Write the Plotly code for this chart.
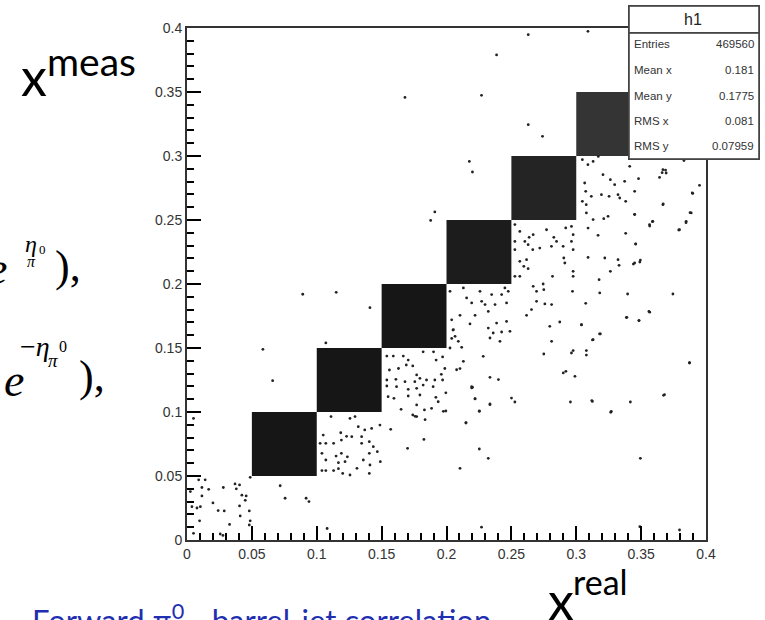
import plotly.graph_objects as go

# ---------------- data ----------------
# dense diagonal blocks (x_real range, x_meas range)
block_x0 = [0.05, 0.10, 0.15, 0.20, 0.25, 0.30]
block_x1 = [0.10, 0.15, 0.20, 0.25, 0.30, 0.35]
block_y0 = [0.05, 0.10, 0.15, 0.20, 0.25, 0.30]
block_y1 = [0.10, 0.15, 0.20, 0.25, 0.30, 0.35]
block_shade = ["#161616", "#161616", "#161616", "#1c1c1c", "#242424", "#343434"]

# sparse entries outside the blocks (x_real, x_meas)
sparse_x = [
    0.005, 0.009, 0.014, 0.0115, 0.0167, 0.0026, 0.0115, 0.028, 0.037, 0.0405, 0.038, 0.0423,
    0.0456, 0.0449, 0.020, 0.0103, 0.0077, 0.0038, 0.024, 0.0287, 0.0405, 0.048, 0.041, 0.0097,
    0.0328, 0.0487, 0.048, 0.005, 0.0256, 0.0277, 0.108, 0.0718, 0.0756, 0.0918, 0.094, 0.0487,
    0.0892, 0.115, 0.141, 0.0585, 0.066, 0.107, 0.263, 0.309, 0.2386, 0.168, 0.227, 0.263,
    0.274, 0.2176, 0.22, 0.191, 0.1878,
    0.105, 0.1026, 0.107, 0.104, 0.107, 0.104, 0.107, 0.113, 0.111, 0.113, 0.1185, 0.123,
    0.119, 0.127, 0.1256, 0.1295, 0.132, 0.1346, 0.137, 0.1423, 0.1487, 0.1405, 0.1436, 0.1467,
    0.1346, 0.1405, 0.119, 0.1149, 0.1236, 0.1167, 0.1218, 0.1359, 0.141, 0.149, 0.1167, 0.12,
    0.1256, 0.131, 0.1405, 0.157, 0.17, 0.1826,
    0.154, 0.159, 0.1667, 0.1705, 0.169, 0.174, 0.177, 0.182, 0.190, 0.192, 0.197, 0.1987,
    0.156, 0.163, 0.154, 0.161, 0.168, 0.1756, 0.1795, 0.1846, 0.191, 0.196, 0.197, 0.154,
    0.1615, 0.1705, 0.177, 0.182, 0.1897, 0.1995, 0.155, 0.1595, 0.1705, 0.1795, 0.1918, 0.165,
    0.177, 0.183, 0.1885, 0.1936, 0.174, 0.177, 0.1995, 0.204, 0.205, 0.204, 0.1758, 0.1835,
    0.1976,
    0.3047, 0.309, 0.313, 0.317, 0.3206, 0.3263, 0.3296, 0.3373, 0.3412, 0.348, 0.345, 0.3668,
    0.3693, 0.3642, 0.3894, 0.3065, 0.3073, 0.3047, 0.3077, 0.3116, 0.3194, 0.3253, 0.3322,
    0.3335, 0.3381, 0.3668, 0.345, 0.3245, 0.3212, 0.313, 0.3078, 0.3886, 0.3847, 0.3796,
    0.3565, 0.359,
    0.2527, 0.2565, 0.2527, 0.2604, 0.2637, 0.2668, 0.2629, 0.2527, 0.2665, 0.2719, 0.2771,
    0.2827, 0.2848, 0.2809, 0.2899, 0.2919, 0.2963, 0.2976, 0.2963, 0.2976, 0.2565, 0.2617,
    0.2596, 0.2629, 0.2527, 0.2565, 0.2668, 0.2745, 0.275, 0.2817, 0.2904, 0.2912, 0.2976,
    0.2976, 0.2971, 0.3091, 0.3168, 0.3091, 0.322, 0.3263, 0.3322, 0.333, 0.345, 0.349, 0.3458,
    0.3176, 0.3181, 0.3745, 0.339, 0.3483, 0.356, 0.304, 0.318, 0.313, 0.3078, 0.2963, 0.2976,
    0.292, 0.29, 0.299, 0.281, 0.2873, 0.2758, 0.281, 0.2694, 0.2617, 0.275, 0.2796, 0.2655,
    0.2694, 0.3873, 0.368, 0.327, 0.3124, 0.2955, 0.2527, 0.2501, 0.2335, 0.2253, 0.222, 0.24,
    0.2335, 0.2201, 0.2283, 0.215,
    0.2027, 0.213, 0.2155, 0.2194, 0.2258, 0.2271, 0.2297, 0.2348, 0.2374, 0.2425, 0.245,
    0.2476, 0.2463, 0.2322, 0.222, 0.2104, 0.2053, 0.2066, 0.2091, 0.2181, 0.2322, 0.2386,
    0.236, 0.2425, 0.2489, 0.2463, 0.2412, 0.2335, 0.2027, 0.2117, 0.2078, 0.2104, 0.213,
    0.2194,
    0.3396, 0.3073, 0.304, 0.3386, 0.3484, 0.3566, 0.3125, 0.3186, 0.3078, 0.3873, 0.312,
    0.3417, 0.3673, 0.3266, 0.3494, 0.349, 0.3796, 0.395, 0.3898, 0.3877, 0.3846, 0.379, 0.367,
    0.3688, 0.3662, 0.383, 0.3566, 0.3587, 0.3458, 0.3494, 0.344, 0.3381, 0.345,
    0.2104, 0.2253, 0.2322, 0.2194, 0.222, 0.2253, 0.2335, 0.215, 0.227,
]
sparse_y = [
    0.095, 0.047, 0.047, 0.041, 0.0396, 0.0378, 0.0344, 0.041, 0.0438, 0.043, 0.040, 0.035,
    0.0344, 0.031, 0.029, 0.026, 0.025, 0.026, 0.023, 0.0227, 0.0266, 0.0227, 0.0188, 0.015,
    0.0122, 0.015, 0.0117, 0.0052, 0.0047, 0.0036, 0.009, 0.0424, 0.0326, 0.0326, 0.030, 0.049,
    0.192, 0.1935, 0.1815, 0.149, 0.1245, 0.154, 0.3948, 0.3974, 0.379, 0.3458, 0.3474, 0.3245,
    0.3154, 0.2958, 0.2875, 0.2563, 0.2497,
    0.082, 0.0755, 0.0755, 0.0677, 0.0625, 0.0542, 0.0542, 0.0542, 0.0964, 0.0755, 0.0838, 0.081,
    0.0781, 0.0807, 0.095, 0.0964, 0.0885, 0.0807, 0.086, 0.0872, 0.0898, 0.0768, 0.0729, 0.069,
    0.0755, 0.0677, 0.0677, 0.0656, 0.065, 0.0604, 0.0612, 0.0625, 0.0586, 0.0612, 0.0557, 0.052,
    0.0508, 0.056, 0.052, 0.0865, 0.0716, 0.0786,
    0.1437, 0.1437, 0.1437, 0.1406, 0.1367, 0.136, 0.129, 0.147, 0.147, 0.1406, 0.143, 0.134,
    0.1328, 0.134, 0.125, 0.1255, 0.1237, 0.1237, 0.1263, 0.125, 0.125, 0.1294, 0.125, 0.1203,
    0.1198, 0.1177, 0.1185, 0.121, 0.1198, 0.115, 0.112, 0.1107, 0.1125, 0.1133, 0.1115, 0.1021,
    0.1055, 0.1016, 0.1029, 0.108, 0.0977, 0.0964, 0.1008, 0.172, 0.164, 0.1575, 0.0966, 0.094,
    0.1005,
    0.2971, 0.2932, 0.2958, 0.2997, 0.2854, 0.2815, 0.2776, 0.2802, 0.2919, 0.2823, 0.2724, 0.2893,
    0.2867, 0.2833, 0.2711, 0.2789, 0.2724, 0.2646, 0.262, 0.2685, 0.2698, 0.2685, 0.2698,
    0.2672, 0.2646, 0.262, 0.2542, 0.2529, 0.251, 0.2503, 0.2555, 0.2555, 0.249, 0.2424,
    0.2464, 0.249,
    0.2464, 0.2411, 0.2333, 0.2333, 0.2365, 0.2385, 0.2307, 0.2268, 0.2268, 0.2281, 0.2424,
    0.2365, 0.2333, 0.2294, 0.2294, 0.2438, 0.245, 0.2385, 0.2333, 0.2268, 0.2177, 0.219,
    0.2138, 0.212, 0.206, 0.206, 0.1982, 0.2, 0.1956, 0.206, 0.2203, 0.2164, 0.2099,
    0.206, 0.1943, 0.2208, 0.238, 0.2437, 0.2203, 0.2099, 0.219, 0.2146, 0.2164, 0.2172, 0.2313,
    0.2034, 0.193, 0.1922, 0.174, 0.1714, 0.1786, 0.1682, 0.161, 0.1565, 0.148, 0.1461, 0.148,
    0.1318, 0.1305, 0.1279, 0.1552, 0.1703, 0.1844, 0.1839, 0.1865, 0.1755, 0.1453, 0.1669, 0.18,
    0.1943, 0.1383, 0.1135, 0.1005, 0.1083, 0.1078, 0.1078, 0.1109, 0.1057, 0.1005, 0.1104, 0.1253,
    0.1271, 0.1193, 0.1435, 0.0914,
    0.1943, 0.1969, 0.1891, 0.1852, 0.1943, 0.1865, 0.1839, 0.1917, 0.1839, 0.1917, 0.1969,
    0.1943, 0.1852, 0.1786, 0.1755, 0.1755, 0.1643, 0.1591, 0.1552, 0.1688, 0.1656, 0.1695,
    0.1617, 0.1625, 0.163, 0.1708, 0.1552, 0.1578, 0.15, 0.1505, 0.133, 0.1339, 0.1396,
    0.1188,
    0.1922, 0.1849, 0.168, 0.1738, 0.1714, 0.178, 0.1563, 0.161, 0.1445, 0.1385, 0.1089,
    0.1078, 0.113, 0.0998, 0.0638, 0.0104, 0.0078, 0.2771, 0.2708, 0.2557, 0.2479, 0.2422, 0.2625,
    0.289, 0.287, 0.2964, 0.2453, 0.2487, 0.2312, 0.2187, 0.2156, 0.2396, 0.2544,
    0.056, 0.0711, 0.0638, 0.1198, 0.1102, 0.1008, 0.1063, 0.0917, 0.01,
]

stat_labels = ["Entries", "Mean x", "Mean y", "RMS x", "RMS y"]
stat_values = ["469560", "0.181", "0.1775", "0.081", "0.07959"]
hist_name = "h1"

# ---------------- figure ----------------
W, H = 765, 620
ML, MR, MT, MB = 187, 59, 28, 80
PW, PH = W - ML - MR, H - MT - MB


def px(x):
    return (x - ML) / PW


def py(y):
    return (H - MB - y) / PH


fig = go.Figure()

# dense blocks as filled polygons
for x0, x1, y0, y1, shade in zip(block_x0, block_x1, block_y0, block_y1, block_shade):
    fig.add_trace(go.Scatter(
        x=[x0, x1, x1, x0, x0], y=[y0, y0, y1, y1, y0],
        mode="lines", fill="toself", fillcolor=shade,
        line=dict(width=0, color=shade),
        hoverinfo="skip", showlegend=False,
    ))

fig.add_trace(go.Scatter(
    x=sparse_x, y=sparse_y, mode="markers",
    marker=dict(size=2.8, color="#222222"),
    showlegend=False,
))

# empty trace so that the minor-tick overlay axes exist
fig.add_trace(go.Scatter(x=[], y=[], xaxis="x2", yaxis="y2", showlegend=False,
                         hoverinfo="skip"))

major = dict(
    range=[0, 0.4], tickmode="linear", dtick=0.05, tick0=0, showgrid=False, zeroline=False,
    showline=True, linecolor="#333333", linewidth=2, mirror=True,
    ticks="inside", ticklen=14, tickwidth=2, tickcolor="black",
)
minor_ax = dict(
    range=[0, 0.4], tickmode="linear", dtick=0.01, tick0=0, showgrid=False, zeroline=False,
    showline=False, showticklabels=False,
    ticks="inside", ticklen=7, tickwidth=1.5, tickcolor="black",
)

fig.update_layout(
    width=W, height=H, autosize=False,
    margin=dict(l=ML, r=MR, t=MT, b=MB, pad=0),
    paper_bgcolor="white", plot_bgcolor="white",
    font=dict(family="Liberation Sans, Arial, sans-serif", size=14, color="#333333"),
    xaxis=dict(**major),
    yaxis=dict(**major),
    xaxis2=dict(**minor_ax, overlaying="x", side="bottom", anchor="y"),
    yaxis2=dict(**minor_ax, overlaying="y", side="left", anchor="x"),
    showlegend=False,
)

ann = []
# stats box: header and body frames
ann.append(dict(text=" ", x=px(628), y=py(5), xref="paper", yref="paper", showarrow=False,
                xanchor="left", yanchor="top", width=128, height=26, borderpad=0,
                bgcolor="white", bordercolor="#444444", borderwidth=1.8))
ann.append(dict(text=" ", x=px(628), y=py(32), xref="paper", yref="paper", showarrow=False,
                xanchor="left", yanchor="top", width=128, height=124, borderpad=0,
                bgcolor="white", bordercolor="#444444", borderwidth=1.8))
ann.append(dict(text=hist_name, x=px(693), y=py(19), xref="paper", yref="paper",
                showarrow=False, xanchor="center", yanchor="middle",
                font=dict(family="Liberation Sans, Arial", size=16, color="#222222")))
row_y = [44, 70, 96, 121, 146]
for lab, val, ry in zip(stat_labels, stat_values, row_y):
    ann.append(dict(text=lab, x=px(632), y=py(ry), xref="paper", yref="paper",
                    showarrow=False, xanchor="left", yanchor="middle",
                    font=dict(family="Liberation Sans, Arial", size=11.5, color="#333333")))
    ann.append(dict(text=val, x=px(756), y=py(ry), xref="paper", yref="paper",
                    showarrow=False, xanchor="right", yanchor="middle",
                    font=dict(family="Liberation Sans, Arial", size=11.5, color="#333333")))

sans = "Lato, Liberation Sans, sans-serif"
serif = "Liberation Serif, DejaVu Serif, serif"

# x^meas
ann.append(dict(text="x", x=px(19), y=py(76), xref="paper", yref="paper", showarrow=False,
                xanchor="left", yanchor="middle", font=dict(family=sans, size=52, color="black")))
ann.append(dict(text="meas", x=px(45), y=py(61), xref="paper", yref="paper", showarrow=False,
                xanchor="left", yanchor="middle", font=dict(family=sans, size=39, color="black")))
# x^real
ann.append(dict(text="x", x=px(546), y=py(600), xref="paper", yref="paper", showarrow=False,
                xanchor="left", yanchor="middle", font=dict(family=sans, size=52, color="black")))
ann.append(dict(text="real", x=px(571), y=py(581), xref="paper", yref="paper", showarrow=False,
                xanchor="left", yanchor="middle", font=dict(family=sans, size=34, color="black")))


def t(text, x, y, size, anchor="center"):
    ann.append(dict(text=text, x=px(x), y=py(y), xref="paper", yref="paper", showarrow=False,
                    xanchor=anchor, yanchor="middle", font=dict(family=serif, size=size, color="black")))


# formula 1: e^{eta_{pi^0}}),
t("<i>e</i>", 9, 268, 46, "right")
t("<i>η</i>", 31, 244, 24)
t("<i>π</i>", 31, 261, 16)
t("0", 42, 249, 13)
t("),", 53, 266, 44, "left")
# formula 2: e^{-eta_{pi^0}}),
t("<i>e</i>", 2, 380, 46, "left")
t("−<i>η</i>", 35, 346, 28)
t("<i>π</i>", 53, 360, 19)
t("0", 63, 346, 16)
t("),", 77, 376, 44, "left")

# bottom caption (cut by page edge)
ann.append(dict(text="Forward π<sup>0</sup> - barrel-jet correlation", x=px(30), y=py(618),
                xref="paper", yref="paper", showarrow=False, xanchor="left", yanchor="middle",
                font=dict(family=sans, size=31, color="#1f2fb0")))

fig.update_layout(annotations=ann)

fig.write_html("out.html")
